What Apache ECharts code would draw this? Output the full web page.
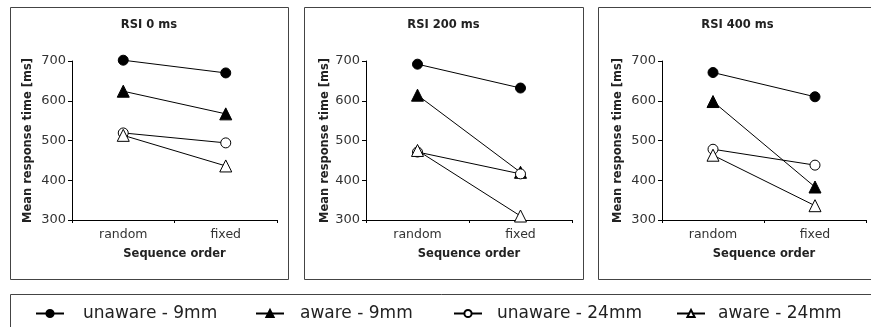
<!DOCTYPE html>
<html>
<head>
<meta charset="utf-8">
<script src="https://cdn.jsdelivr.net/npm/echarts@6/dist/echarts.min.js"></script>
<style>
html,body{margin:0;padding:0;background:#fff;}
#chart{width:871px;height:327px;}
</style>
</head>
<body>
<div id="chart"></div>
<script>
const categories = ['random', 'fixed'];
const panelTitles = ['RSI 0 ms', 'RSI 200 ms', 'RSI 400 ms'];
const seriesNames = ['unaware - 9mm', 'aware - 9mm', 'unaware - 24mm', 'aware - 24mm'];
const yTicks = [300, 400, 500, 600, 700];

// values per panel: [random, fixed]
const rsi0_unaware9 = [702, 670];
const rsi0_aware9 = [624, 567];
const rsi0_unaware24 = [519, 494];
const rsi0_aware24 = [513, 436];

const rsi200_unaware9 = [692, 632];
const rsi200_aware9 = [614, 420];
const rsi200_unaware24 = [471, 416];
const rsi200_aware24 = [475, 310];

const rsi400_unaware9 = [671, 610];
const rsi400_aware9 = [598, 383];
const rsi400_unaware24 = [478, 438];
const rsi400_aware24 = [463, 336];

const panelData = [
  [rsi0_unaware9, rsi0_aware9, rsi0_unaware24, rsi0_aware24],
  [rsi200_unaware9, rsi200_aware9, rsi200_unaware24, rsi200_aware24],
  [rsi400_unaware9, rsi400_aware9, rsi400_unaware24, rsi400_aware24]
];

// layout
const boxes = [[10, 7, 278, 272], [304, 7, 279, 272], [598, 7, 279, 272]];
const grids = [[72, 205], [366, 206], [662, 204]];
const yNameGaps = [38, 34, 38];
const FONT = 'DejaVu Sans';

const symbolStyles = [
  {symbol: 'circle', size: 10, fill: '#000'},
  {symbol: 'triangle', size: 12, fill: '#000'},
  {symbol: 'circle', size: 10, fill: '#fff'},
  {symbol: 'triangle', size: 12, fill: '#fff'}
];

const chart = echarts.init(document.getElementById('chart'), null, {renderer: 'canvas'});

const grid = [], xAxis = [], yAxis = [], series = [], graphic = [];

boxes.forEach((b, i) => {
  graphic.push({
    type: 'rect', shape: {x: b[0] + 0.5, y: b[1] + 0.5, width: b[2], height: b[3]},
    style: {fill: 'none', stroke: '#444', lineWidth: 1}, silent: true, z: 0
  });
  graphic.push({
    type: 'text', x: b[0] + b[2] / 2, y: 25,
    style: {text: panelTitles[i], font: 'bold 11.5px "' + FONT + '"', fill: '#222',
      textAlign: 'center', textVerticalAlign: 'middle'}, silent: true
  });
});
graphic.push({
  type: 'rect', shape: {x: 10.5, y: 294.5, width: 880, height: 60},
  style: {fill: 'none', stroke: '#444', lineWidth: 1}, silent: true
});

grids.forEach((g, i) => {
  grid.push({left: g[0], top: 61, width: g[1], height: 159, containLabel: false});
  xAxis.push({
    type: 'category', gridIndex: i, data: categories, boundaryGap: true,
    axisLine: {lineStyle: {color: '#000', width: 1}},
    axisTick: {show: true, length: 3, lineStyle: {color: '#000'}},
    axisLabel: {fontFamily: FONT, fontSize: 12.5, color: '#333', margin: 8},
    name: 'Sequence order', nameLocation: 'middle', nameGap: 28,
    nameTextStyle: {fontFamily: FONT, fontSize: 11.5, fontWeight: 'bold', color: '#222'},
    splitLine: {show: false}
  });
  yAxis.push({
    type: 'value', gridIndex: i, min: yTicks[0], max: yTicks[yTicks.length - 1], interval: 100,
    axisLine: {show: true, lineStyle: {color: '#000', width: 1}},
    axisTick: {show: true, length: 4, lineStyle: {color: '#000'}},
    axisLabel: {fontFamily: FONT, fontSize: 13, color: '#333', margin: 6},
    splitLine: {show: false},
    name: 'Mean response time [ms]', nameLocation: 'middle', nameGap: yNameGaps[i],
    nameTextStyle: {fontFamily: FONT, fontSize: 11.5, fontWeight: 'bold', color: '#222'}
  });
  panelData[i].forEach((vals, k) => {
    const s = symbolStyles[k];
    series.push({
      type: 'line', name: seriesNames[k], xAxisIndex: i, yAxisIndex: i,
      data: vals, symbol: s.symbol, symbolSize: s.size, showAllSymbol: true,
      clip: false,
      lineStyle: {color: '#000', width: 1},
      itemStyle: {color: s.fill, borderColor: '#000', borderWidth: 1},
      animation: false, z: 2 + k
    });
  });
});

const legendLefts = [35, 255, 453, 676];
const legendPads = [14, 11, 10, 8];
const legend = seriesNames.map((n, k) => ({
  data: [n], left: legendLefts[k], top: 305, padding: 0,
  itemWidth: 28, itemHeight: 9, selectedMode: false,
  textStyle: {fontFamily: FONT, fontSize: 17, color: '#222', padding: [0, 0, 0, legendPads[k]]}
}));

chart.setOption({
  animation: false,
  backgroundColor: '#fff',
  grid, xAxis, yAxis, series, legend, graphic
});
</script>
</body>
</html>
